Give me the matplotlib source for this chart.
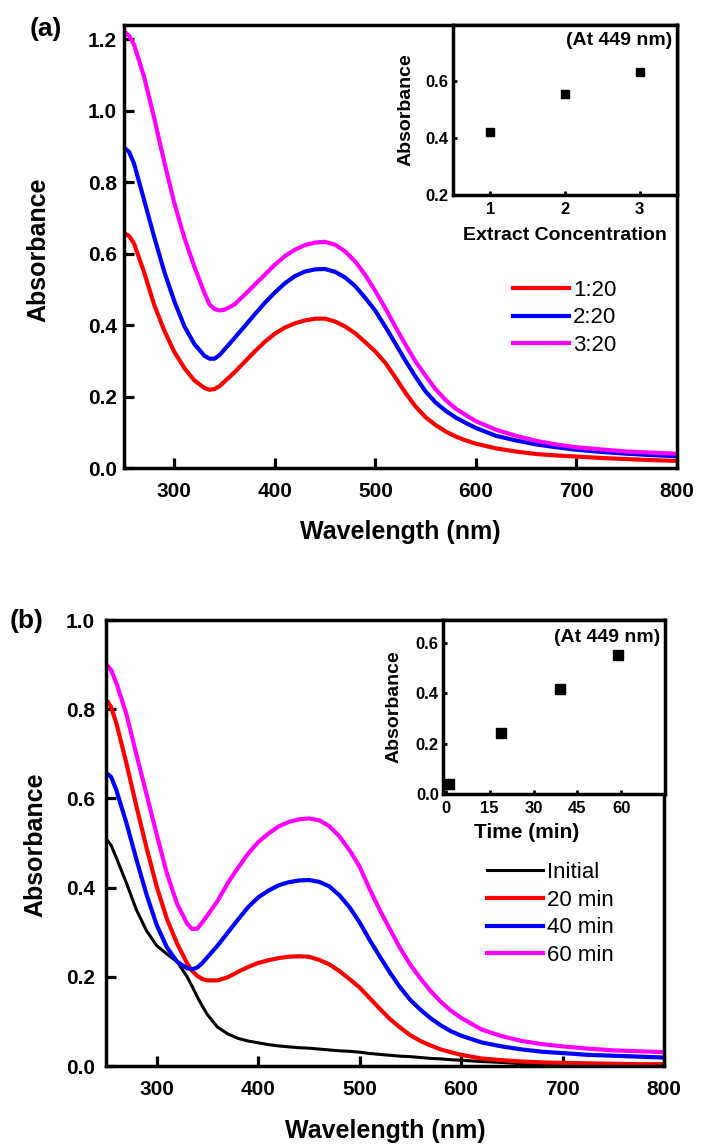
import matplotlib
matplotlib.use('Agg')
import matplotlib.pyplot as plt

plt.rcParams['font.family'] = ['Liberation Sans', 'DejaVu Sans']
plt.rcParams['font.weight'] = 'bold'

# ---------------- Panel (a) data ----------------
wl_a = [250, 255, 260, 270, 280, 290, 300, 310, 320, 330, 335, 340, 345, 350, 360, 370, 380,
        390, 400, 410, 420, 430, 440, 450, 460, 470, 480, 490, 500, 510, 520, 530, 540, 550,
        560, 570, 580, 590, 600, 620, 640, 660, 680, 700, 725, 750, 775, 800]
abs_1_20 = [0.657, 0.650, 0.628, 0.548, 0.457, 0.385, 0.325, 0.280, 0.245, 0.224, 0.219, 0.221,
            0.229, 0.242, 0.268, 0.297, 0.326, 0.353, 0.376, 0.393, 0.405, 0.413, 0.418, 0.418,
            0.410, 0.396, 0.377, 0.352, 0.326, 0.294, 0.253, 0.210, 0.172, 0.142, 0.120, 0.102,
            0.088, 0.077, 0.068, 0.055, 0.046, 0.039, 0.035, 0.032, 0.028, 0.025, 0.022, 0.020]
abs_2_20 = [0.897, 0.885, 0.852, 0.750, 0.647, 0.550, 0.467, 0.397, 0.347, 0.314, 0.306, 0.306,
            0.316, 0.332, 0.364, 0.397, 0.430, 0.462, 0.491, 0.517, 0.537, 0.550, 0.556, 0.557,
            0.549, 0.533, 0.509, 0.476, 0.440, 0.395, 0.348, 0.300, 0.255, 0.214, 0.183, 0.160,
            0.141, 0.126, 0.112, 0.090, 0.077, 0.066, 0.058, 0.051, 0.045, 0.040, 0.036, 0.033]
abs_3_20 = [1.222, 1.210, 1.185, 1.095, 0.980, 0.857, 0.742, 0.645, 0.563, 0.490, 0.458, 0.445,
            0.441, 0.443, 0.458, 0.485, 0.513, 0.541, 0.569, 0.593, 0.611, 0.624, 0.631, 0.633,
            0.625, 0.606, 0.578, 0.540, 0.495, 0.447, 0.395, 0.345, 0.298, 0.258, 0.220, 0.190,
            0.166, 0.148, 0.131, 0.107, 0.090, 0.076, 0.066, 0.058, 0.052, 0.046, 0.043, 0.040]
labels_a = ['1:20', '2:20', '3:20']
colors_a = ['#ff0000', '#0000ff', '#ff00ff']

conc = [1, 2, 3]
conc_abs = [0.42, 0.555, 0.632]

# ---------------- Panel (b) data ----------------
wl_b = wl_a
abs_initial = [0.510, 0.495, 0.468, 0.411, 0.350, 0.303, 0.270, 0.251, 0.234, 0.200, 0.178, 0.155,
               0.134, 0.115, 0.087, 0.072, 0.062, 0.056, 0.052, 0.048, 0.045, 0.043, 0.041, 0.040,
               0.038, 0.036, 0.034, 0.033, 0.031, 0.028, 0.026, 0.024, 0.022, 0.021, 0.019, 0.017,
               0.016, 0.014, 0.013, 0.010, 0.008, 0.005, 0.003, 0.002, 0.002, 0.001, 0.001, 0.001]
abs_20min = [0.822, 0.805, 0.770, 0.680, 0.582, 0.489, 0.402, 0.330, 0.275, 0.230, 0.213, 0.202,
             0.195, 0.192, 0.192, 0.199, 0.211, 0.222, 0.231, 0.237, 0.242, 0.245, 0.246, 0.245,
             0.238, 0.228, 0.213, 0.195, 0.176, 0.152, 0.128, 0.105, 0.086, 0.069, 0.056, 0.046,
             0.037, 0.031, 0.025, 0.017, 0.013, 0.010, 0.008, 0.007, 0.006, 0.005, 0.004, 0.004]
abs_40min = [0.658, 0.648, 0.620, 0.546, 0.463, 0.384, 0.316, 0.266, 0.234, 0.219, 0.217, 0.221,
             0.231, 0.244, 0.270, 0.299, 0.328, 0.356, 0.378, 0.393, 0.405, 0.412, 0.416, 0.417,
             0.413, 0.403, 0.383, 0.356, 0.322, 0.282, 0.245, 0.209, 0.176, 0.148, 0.126, 0.107,
             0.091, 0.078, 0.068, 0.053, 0.044, 0.037, 0.032, 0.029, 0.025, 0.023, 0.021, 0.019]
abs_60min = [0.902, 0.888, 0.860, 0.790, 0.698, 0.609, 0.519, 0.432, 0.364, 0.319, 0.307, 0.308,
             0.322, 0.338, 0.370, 0.410, 0.444, 0.476, 0.502, 0.521, 0.537, 0.547, 0.553, 0.555,
             0.551, 0.538, 0.515, 0.484, 0.447, 0.396, 0.349, 0.306, 0.264, 0.227, 0.196, 0.168,
             0.144, 0.124, 0.108, 0.082, 0.067, 0.056, 0.049, 0.044, 0.039, 0.035, 0.033, 0.031]
labels_b = ['Initial', '20 min', '40 min', '60 min']
colors_b = ['#000000', '#ff0000', '#0000ff', '#ff00ff']

time_min = [1, 19, 39, 59]
time_abs = [0.04, 0.243, 0.417, 0.553]

# ---------------- Figure ----------------
W, H = 717, 1144
fig = plt.figure(figsize=(W / 100, H / 100), dpi=100)


def box(l, r, t, b):
    return [l / W, 1 - b / H, (r - l) / W, (b - t) / H]


def style_main(ax):
    for s in ax.spines.values():
        s.set_linewidth(2.5)
    ax.tick_params(direction='in', length=7, width=2.3, labelsize=15, top=False, right=False)
    ax.tick_params(axis='x', pad=10)
    ax.tick_params(axis='y', pad=5)


def style_inset(ax):
    for s in ax.spines.values():
        s.set_linewidth(2.5)
    ax.tick_params(direction='in', length=3, width=2, labelsize=12, top=False, right=False)
    ax.tick_params(axis='x', pad=5)
    ax.tick_params(axis='y', pad=3)


# Panel (a)
ax1 = fig.add_axes(box(124, 677, 25, 468))
for y, lab, c in zip([abs_1_20, abs_2_20, abs_3_20], labels_a, colors_a):
    ax1.plot(wl_a, y, color=c, lw=3.0, label=lab, solid_joinstyle='round')
ax1.set_xlim(250, 800)
ax1.set_ylim(0, 1.24)
ax1.set_xticks([300, 400, 500, 600, 700, 800])
ax1.set_yticks([0.0, 0.2, 0.4, 0.6, 0.8, 1.0, 1.2])
ax1.set_yticklabels(['0.0', '0.2', '0.4', '0.6', '0.8', '1.0', '1.2'])
style_main(ax1)
ax1.legend(loc='center left', bbox_to_anchor=(513 / W, 1 - 318 / H), bbox_transform=fig.transFigure,
           frameon=False, borderpad=0, borderaxespad=0, handlelength=2.5, handletextpad=0.2,
           labelspacing=0.3, prop={'weight': 'normal', 'size': 16})
fig.text(400 / W, 1 - 539 / H, 'Wavelength (nm)', ha='center', va='baseline', fontsize=18, fontweight='bold')
fig.text(38 / W, 1 - 250 / H, 'Absorbance', ha='center', va='center', rotation=90, fontsize=18, fontweight='bold')
fig.text(30 / W, 1 - 29 / H, '(a)', ha='left', va='center', fontsize=19, fontweight='bold')

ins1 = fig.add_axes(box(453, 677, 25, 195))
ins1.set_facecolor('white')
ins1.plot(conc, conc_abs, 's', color='black', ms=6)
ins1.set_xlim(0.5, 3.5)
ins1.set_ylim(0.2, 0.795)
ins1.set_xticks([1, 2, 3])
ins1.set_yticks([0.2, 0.4, 0.6])
ins1.set_yticklabels(['0.2', '0.4', '0.6'])
style_inset(ins1)
ins1.text(0.98, 0.96, '(At 449 nm)', transform=ins1.transAxes, ha='right', va='top', fontsize=14, fontweight='bold')
fig.text(565 / W, 1 - 240 / H, 'Extract Concentration', ha='center', va='baseline', fontsize=14, fontweight='bold')
fig.text(406 / W, 1 - 110 / H, 'Absorbance', ha='center', va='center', rotation=90, fontsize=14, fontweight='bold')

# Panel (b)
ax2 = fig.add_axes(box(106, 664, 620, 1066))
for y, lab, c in zip([abs_initial, abs_20min, abs_40min, abs_60min], labels_b, colors_b):
    ax2.plot(wl_b, y, color=c, lw=(2.2 if c == '#000000' else 3.0), label=lab, solid_joinstyle='round')
ax2.set_xlim(250, 800)
ax2.set_ylim(0, 1.0)
ax2.set_xticks([300, 400, 500, 600, 700, 800])
ax2.set_yticks([0.0, 0.2, 0.4, 0.6, 0.8, 1.0])
ax2.set_yticklabels(['0.0', '0.2', '0.4', '0.6', '0.8', '1.0'])
style_main(ax2)
ax2.tick_params(axis='y', pad=8)
ax2.legend(loc='center left', bbox_to_anchor=(487 / W, 1 - 914 / H), bbox_transform=fig.transFigure,
           frameon=False, borderpad=0, borderaxespad=0, handlelength=2.5, handletextpad=0.2,
           labelspacing=0.3, prop={'weight': 'normal', 'size': 16})
fig.text(385 / W, 1 - 1138 / H, 'Wavelength (nm)', ha='center', va='baseline', fontsize=18, fontweight='bold')
fig.text(35 / W, 1 - 845 / H, 'Absorbance', ha='center', va='center', rotation=90, fontsize=18, fontweight='bold')
fig.text(10 / W, 1 - 621 / H, '(b)', ha='left', va='center', fontsize=19, fontweight='bold')

ins2 = fig.add_axes(box(443, 665, 620, 794))
ins2.set_facecolor('white')
ins2.plot(time_min, time_abs, 's', color='black', ms=6.5)
ins2.set_xlim(-1, 75)
ins2.set_ylim(0, 0.69)
ins2.set_xticks([0, 15, 30, 45, 60])
ins2.set_yticks([0.0, 0.2, 0.4, 0.6])
ins2.set_yticklabels(['0.0', '0.2', '0.4', '0.6'])
style_inset(ins2)
ins2.text(0.98, 0.95, '(At 449 nm)', transform=ins2.transAxes, ha='right', va='top', fontsize=14, fontweight='bold')
fig.text(527 / W, 1 - 838 / H, 'Time (min)', ha='center', va='baseline', fontsize=15, fontweight='bold')
fig.text(394 / W, 1 - 707 / H, 'Absorbance', ha='center', va='center', rotation=90, fontsize=14, fontweight='bold')

fig.savefig('out.png', dpi=100, facecolor='white')
